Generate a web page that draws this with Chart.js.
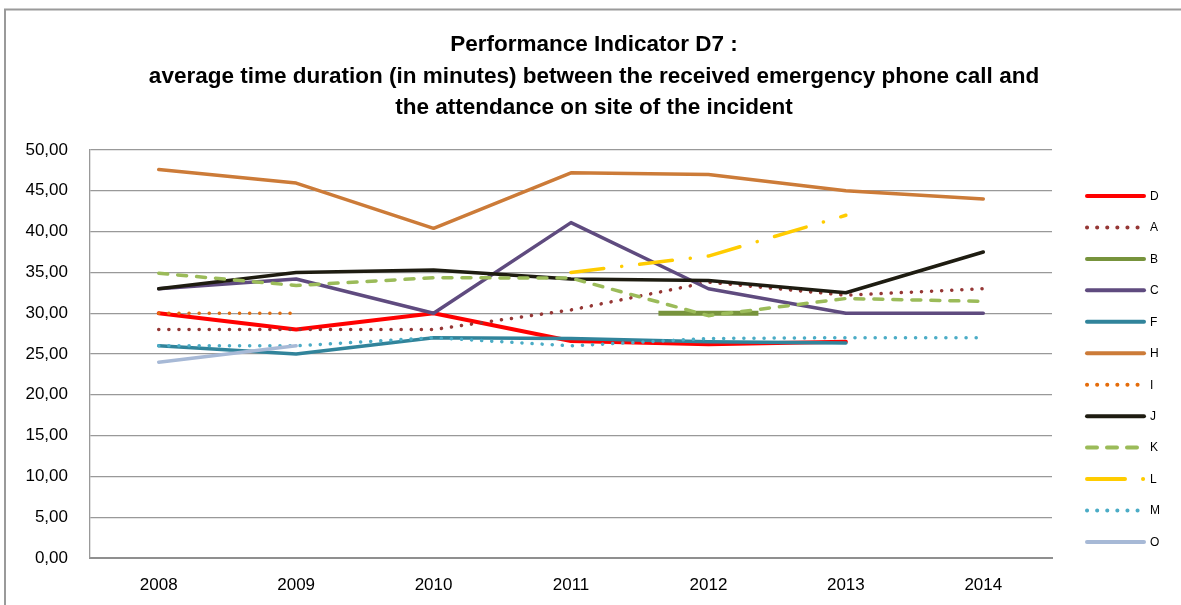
<!DOCTYPE html>
<html>
<head>
<meta charset="utf-8">
<script src="https://cdn.jsdelivr.net/npm/chart.js@4.4.1/dist/chart.umd.min.js"></script>
<style>
  html, body { margin: 0; padding: 0; background: #ffffff; overflow: hidden; }
  #wrap { width: 1181px; height: 605px; overflow: hidden; }
</style>
</head>
<body>
<div id="wrap"><canvas id="c" width="1181" height="613"></canvas></div>
<script>
const categories = ['2008', '2009', '2010', '2011', '2012', '2013', '2014'];
const yTickLabels = ['0,00', '5,00', '10,00', '15,00', '20,00', '25,00', '30,00', '35,00', '40,00', '45,00', '50,00'];
const titleLines = [
  'Performance Indicator D7 :',
  'average time duration (in minutes) between the received emergency phone call and',
  'the attendance on site of the incident'
];
const seriesNames = ['D', 'A', 'B', 'C', 'F', 'H', 'I', 'J', 'K', 'L', 'M', 'O'];
const valuesD = [30.0, 28.0, 30.0, 26.6, 26.2, 26.5, null];
const valuesA = [28.0, 28.0, 28.0, 30.4, 33.8, 32.2, 33.0];
const valuesB = [null, null, null, null, 30.0, null, null];
const valuesC = [33.0, 34.2, 30.0, 41.1, 33.0, 30.0, 30.0];
const valuesF = [26.0, 25.0, 27.0, 26.9, 26.5, 26.35, null];
const valuesH = [47.6, 45.95, 40.4, 47.2, 47.0, 45.0, 44.0];
const valuesI = [30.0, 30.0, null, null, null, null, null];
const valuesJ = [33.0, 35.0, 35.3, 34.2, 34.0, 32.5, 37.5];
const valuesK = [34.9, 33.4, 34.35, 34.3, 29.7, 31.8, 31.45];
const valuesL = [null, null, null, 35.0, 37.0, 42.0, null];
const valuesM = [26.0, 26.0, 27.0, 26.0, 26.9, 27.0, 27.0];
const valuesO = [24.0, 26.0, null, null, null, null, null];

const seriesValues = [valuesD, valuesA, valuesB, valuesC, valuesF, valuesH, valuesI, valuesJ, valuesK, valuesL, valuesM, valuesO];
const seriesColors = ['#FF0000', '#953735', '#77933C', '#5F4B7F', '#31849B', '#CC7B38', '#E46C0A', '#1E1C11', '#9BBB59', '#FFCC00', '#4BACC6', '#A7B9D6'];
const dotted = [0.1, 10];
const seriesDash = [[], dotted, [], [], [], [], dotted, [], [9, 10], [33, 18, 0.1, 18], dotted, []];

const datasets = seriesNames.map((name, i) => {
  const isMarker = name === 'B';
  return {
    label: name,
    data: seriesValues[i],
    borderColor: seriesColors[i],
    backgroundColor: seriesColors[i],
    borderWidth: name === 'D' ? 4 : 3.5,
    borderDash: seriesDash[i],
    borderCapStyle: 'round',
    borderJoinStyle: 'round',
    pointRadius: isMarker ? 50 : 0,
    pointHoverRadius: isMarker ? 50 : 0,
    pointStyle: isMarker ? 'line' : 'circle',
    pointBorderWidth: isMarker ? 5 : 0,
    pointBorderColor: seriesColors[i],
    tension: 0,
    spanGaps: false,
    fill: false,
    order: seriesNames.length - i
  };
});

const framePlugin = {
  id: 'frame',
  beforeDraw(chart) {
    const ctx = chart.ctx;
    ctx.save();
    ctx.fillStyle = '#ffffff';
    ctx.fillRect(0, 0, chart.width, chart.height);
    ctx.strokeStyle = '#9a9a9a';
    ctx.lineWidth = 2;
    ctx.beginPath();
    ctx.moveTo(5, chart.height);
    ctx.lineTo(5, 9.5);
    ctx.lineTo(chart.width, 9.5);
    ctx.stroke();
    ctx.restore();
  }
};

const titlePlugin = {
  id: 'mainTitle',
  afterDraw(chart) {
    const ctx = chart.ctx;
    ctx.save();
    ctx.fillStyle = '#000000';
    ctx.font = 'bold 22.5px "Liberation Sans", Arial, sans-serif';
    ctx.textAlign = 'center';
    ctx.textBaseline = 'middle';
    titleLines.forEach((line, i) => {
      ctx.fillText(line, 594, 45 + i * 31.5);
    });
    ctx.restore();
  }
};

const legendPlugin = {
  id: 'sideLegend',
  afterDraw(chart) {
    const ctx = chart.ctx;
    const x0 = 1087, x1 = 1144, tx = 1150;
    const yStart = 196, step = 31.45;
    ctx.save();
    chart.data.datasets.forEach((ds, i) => {
      const y = yStart + i * step;
      ctx.strokeStyle = ds.borderColor;
      ctx.lineWidth = 4;
      ctx.lineCap = 'round';
      ctx.setLineDash(ds.label === 'L' ? [38, 18, 0.1, 30] : ds.label === 'K' ? [10, 10] : (ds.borderDash || []));
      ctx.beginPath();
      ctx.moveTo(x0, y);
      ctx.lineTo(x1, y);
      ctx.stroke();
      ctx.setLineDash([]);
      ctx.fillStyle = '#000000';
      ctx.font = '12px "Liberation Sans", Arial, sans-serif';
      ctx.textBaseline = 'middle';
      ctx.textAlign = 'left';
      ctx.fillText(ds.label, tx, y + 0.5);
    });
    ctx.restore();
  }
};

new Chart(document.getElementById('c'), {
  type: 'line',
  data: { labels: categories, datasets: datasets },
  plugins: [framePlugin, titlePlugin, legendPlugin],
  options: {
    responsive: false,
    animation: false,
    devicePixelRatio: 1,
    layout: { padding: { left: 0, right: 129, top: 150, bottom: 0 } },
    plugins: {
      legend: { display: false },
      tooltip: { enabled: false },
      title: { display: false }
    },
    scales: {
      x: {
        type: 'category',
        offset: true,
        grid: { display: false, drawTicks: false },
        border: { display: true, color: '#8f8f8f', width: 2 },
        ticks: {
          color: '#000000',
          font: { family: '"Liberation Sans", Arial, sans-serif', size: 17 },
          padding: 17,
          maxRotation: 0,
          autoSkip: false
        },
        afterFit(s) { s.height = 47; }
      },
      y: {
        min: 0,
        max: 50,
        grid: { color: '#999999', lineWidth: 1.3, drawTicks: false },
        border: { display: true, color: '#999999', width: 1.3 },
        ticks: {
          stepSize: 5,
          color: '#000000',
          font: { family: '"Liberation Sans", Arial, sans-serif', size: 17 },
          padding: 22,
          callback: (v) => yTickLabels[Math.round(v / 5)]
        },
        afterFit(s) { s.width = 90; }
      }
    }
  }
});
</script>
</body>
</html>
